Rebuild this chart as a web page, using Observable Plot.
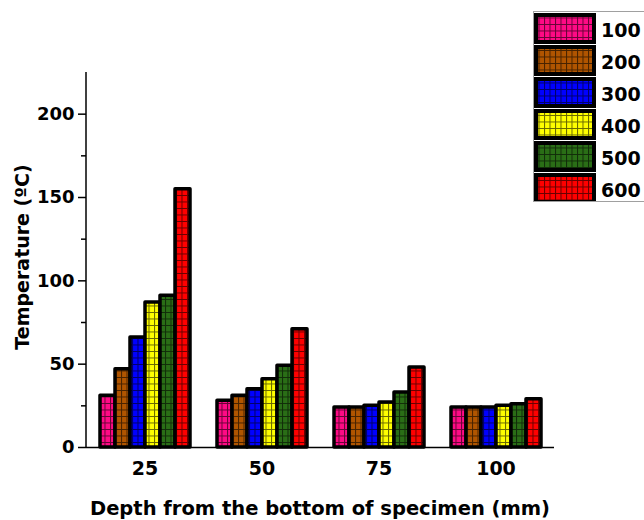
<!DOCTYPE html>
<html>
<head>
<meta charset="utf-8">
<script src="https://cdn.jsdelivr.net/npm/d3@7"></script>
<script src="https://cdn.jsdelivr.net/npm/@observablehq/plot@0.6"></script>
<style>
  html, body { margin: 0; padding: 0; background: white; overflow: hidden; }
  #wrap { position: relative; width: 644px; height: 520px; font-family: "DejaVu Sans", sans-serif; }
  .title { position: absolute; font-weight: bold; font-size: 19px; white-space: nowrap; color: black; }
  #legend { position: absolute; left: 533px; top: 11px; width: 120px; height: 191px; border: 1px solid #a0a0a0; box-sizing: border-box; background: white; }
</style>
</head>
<body>
<svg width="0" height="0" style="position:absolute"><defs id="pdefs"></defs></svg>
<div id="wrap"></div>
<script>
// Data
const depths = ["25", "50", "75", "100"];
const series = ["100", "200", "300", "400", "500", "600"];
const colors = ["#ff0a85", "#b05500", "#0000ff", "#ffff00", "#2a6e16", "#ff0000"];
const s100 = [31, 28, 24, 24];
const s200 = [47, 31, 24, 24];
const s300 = [66, 35, 25, 24];
const s400 = [87, 41, 27, 25];
const s500 = [91, 49, 33, 26];
const s600 = [155, 71, 48, 29];
const yMajor = [0, 50, 100, 150, 200];
const yMinor = [25, 75, 125, 175];
const xTitle = "Depth from the bottom of specimen (mm)";
const yTitle = "Temperature (ºC)";

const valueSets = [s100, s200, s300, s400, s500, s600];
const rows = [];
series.forEach((s, i) => depths.forEach((d, j) => rows.push({depth: d, series: s, value: valueSets[i][j]})));

// grid-hatch patterns
const defs = d3.select("#pdefs");
const urls = colors.map((c, i) => {
  const p = defs.append("pattern").attr("id", "pat" + i).attr("patternUnits", "userSpaceOnUse")
    .attr("width", 5.5).attr("height", 6.5);
  p.append("rect").attr("width", 5.5).attr("height", 6.5).attr("fill", c);
  p.append("path").attr("d", "M0,0.5H5.5M0.5,0V6.5").attr("stroke", "black").attr("stroke-opacity", 0.6).attr("stroke-width", 1);
  return "url(#pat" + i + ")";
});

const plot = Plot.plot({
  width: 644,
  height: 520,
  marginLeft: 86,
  marginRight: 90,
  marginTop: 72,
  marginBottom: 73,
  style: {fontFamily: "'DejaVu Sans', sans-serif", color: "black", background: "white"},
  fx: {domain: depths, padding: 0, label: null, axis: null},
  x: {domain: series, paddingInner: 0, paddingOuter: 0.71, axis: null},
  y: {domain: [0, 225], axis: null},
  color: {domain: series, range: urls},
  marks: [
    Plot.barY(rows, {fx: "depth", x: "series", y: "value", fill: "series", stroke: "black", strokeWidth: 3.5, strokeLinejoin: "round"}),
    Plot.ruleY([0], {strokeWidth: 1.5}),
    Plot.axisY({ticks: yMajor, tickSize: 8, tickPadding: 4, fontSize: 18, fontWeight: "bold", label: null, strokeWidth: 1.5}),
    Plot.axisY({ticks: yMinor, tickSize: 5, tickFormat: () => "", label: null, strokeWidth: 1.5}),
    Plot.axisFx({anchor: "bottom", tickSize: 0, tickPadding: 14, fontSize: 19, fontWeight: "bold", label: null})
  ]
});

// y axis line
const ys = plot.scale("y");
d3.select(plot).append("line")
  .attr("x1", 86).attr("x2", 86)
  .attr("y1", ys.range[0] + 0.75).attr("y2", ys.range[1])
  .attr("stroke", "black").attr("stroke-width", 1.5);

const wrap = document.getElementById("wrap");
wrap.appendChild(plot);

// axis titles
const xt = document.createElement("div");
xt.className = "title";
xt.textContent = xTitle;
xt.style.fontSize = "19.5px";
xt.style.left = "320px"; xt.style.top = "508px";
xt.style.transform = "translate(-50%, -50%)";
wrap.appendChild(xt);

const yt = document.createElement("div");
yt.className = "title";
yt.textContent = yTitle;
yt.style.left = "22px"; yt.style.top = "257px";
yt.style.transform = "translate(-50%, -50%) rotate(-90deg)";
wrap.appendChild(yt);

// legend
const leg = document.createElement("div");
leg.id = "legend";
wrap.appendChild(leg);
const lsvg = d3.select(leg).append("svg").attr("width", 120).attr("height", 190)
  .style("position", "absolute").style("left", "-1px").style("top", "-1px");
series.forEach((s, i) => {
  lsvg.append("rect").attr("x", 3).attr("y", 4 + 32 * i).attr("width", 58).attr("height", 27)
    .attr("fill", urls[i]).attr("stroke", "black").attr("stroke-width", 4);
  lsvg.append("text").attr("x", 68).attr("y", 26 + 32 * i)
    .attr("font-family", "'DejaVu Sans', sans-serif").attr("font-weight", "bold").attr("font-size", 19)
    .text(s);
});
</script>
</body>
</html>
